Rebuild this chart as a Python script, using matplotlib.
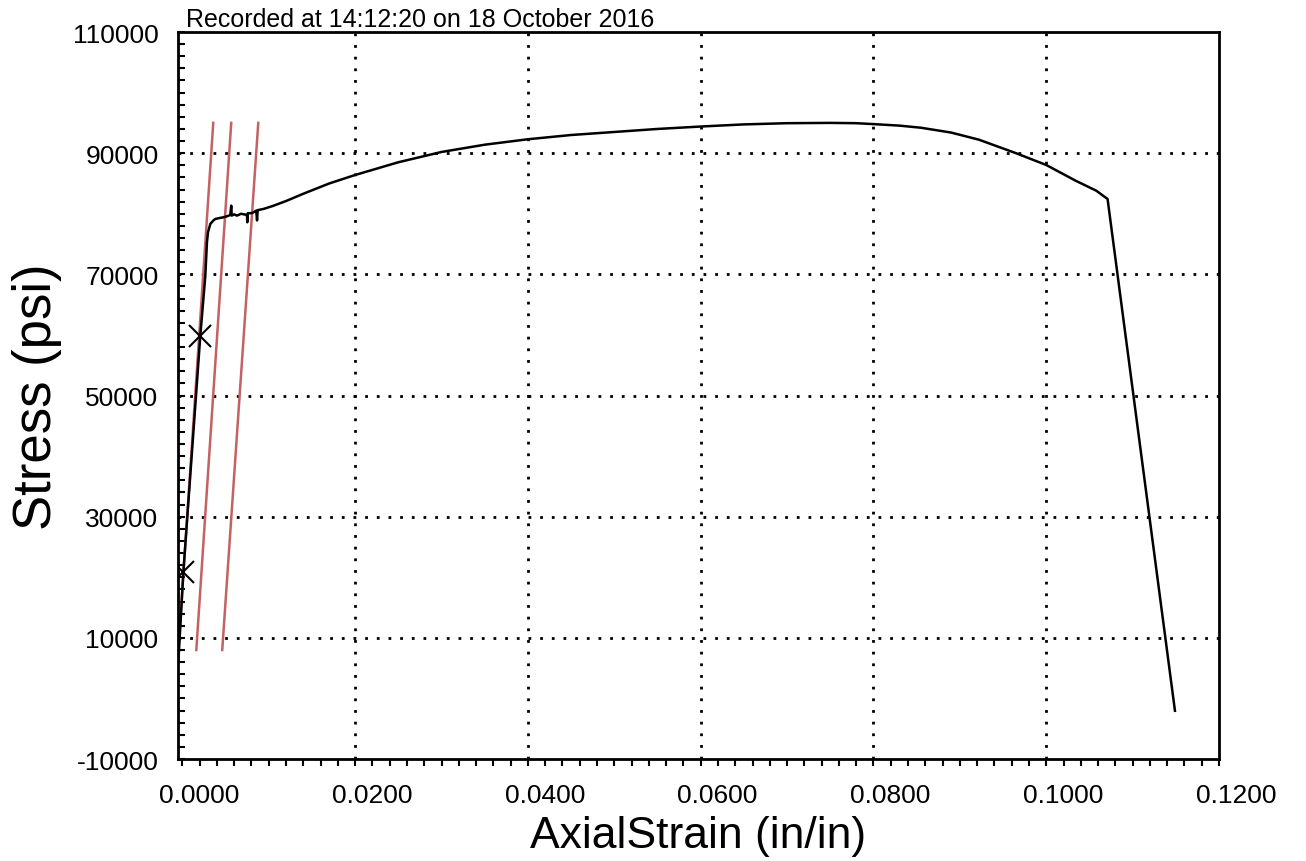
import numpy as np
import matplotlib
matplotlib.use("Agg")
import matplotlib.pyplot as plt
import matplotlib.transforms as mtransforms
from matplotlib.ticker import MultipleLocator

plt.rcParams['font.family'] = ['Liberation Sans', 'DejaVu Sans']
plt.rcParams['axes.unicode_minus'] = False

# stress-strain trace
strain = [-0.00046, 0.00012, 0.00208, 0.00266, 0.00285, 0.00297, 0.00324, 0.0036,
          0.00382, 0.0043, 0.00477, 0.0052, 0.00555, 0.00566, 0.00572, 0.0060,
          0.00632, 0.0068, 0.00748, 0.00752, 0.00758, 0.00806, 0.00855, 0.00865,
          0.00872, 0.0094, 0.0105, 0.0120, 0.0140, 0.0170, 0.0200, 0.0250,
          0.0300, 0.0350, 0.0400, 0.0450, 0.0500, 0.0550, 0.0600, 0.0650,
          0.0700, 0.0750, 0.0780, 0.0800, 0.0830, 0.0855, 0.0890, 0.0922,
          0.0965, 0.1000, 0.1034, 0.1058, 0.1071, 0.1149]
stress = [6040, 20900, 59840, 69740, 75300, 76950, 78320, 78900,
          79140, 79300, 79420, 79600, 79800, 81340, 79700, 79900,
          79690, 80000, 79800, 78600, 80100, 80100, 80510, 78900,
          80600, 80800, 81300, 82100, 83300, 85000, 86400, 88500,
          90200, 91400, 92300, 93000, 93500, 94000, 94400, 94750,
          94950, 95000, 94950, 94800, 94550, 94200, 93400, 92230,
          90000, 88050, 85460, 83800, 82440, -2040]

# the two marked points on the elastic line
mark_strain = [0.00012, 0.00208]
mark_stress = [20900, 59840]

# offset modulus lines (start, end)
offset_strain = [(-0.00046, 0.00358), (0.00162, 0.00566), (0.00462, 0.00879)]
offset_stress = [(8000, 95000), (8000, 95000), (8000, 95000)]

x_ticks = [0, 0.02, 0.04, 0.06, 0.08, 0.10, 0.12]
y_ticks = [-10000, 10000, 30000, 50000, 70000, 90000, 110000]
x_grid = [0.02, 0.04, 0.06, 0.08, 0.10]
y_grid = [10000, 30000, 50000, 70000, 90000]

title = "Recorded at 14:12:20 on 18 October 2016"

fig = plt.figure(figsize=(13.06, 8.62), dpi=100)
ax = fig.add_axes([0.1363, 0.1183, 0.7971, 0.8434])

for xs, ys in zip(offset_strain, offset_stress):
    ax.plot(xs, ys, color='#c46262', lw=1.8, zorder=2)

ax.plot(strain, stress, color='black', lw=1.8, zorder=3)
ax.plot(mark_strain, mark_stress, 'x', color='black', ms=16, mew=1.5, zorder=4)

ax.set_xlim(-0.0005, 0.12)
ax.set_ylim(-10000, 110000)

ax.xaxis.set_minor_locator(MultipleLocator(0.002))
ax.yaxis.set_minor_locator(MultipleLocator(2000))
ax.set_yticks(y_ticks)
ax.set_xticks(x_ticks)
ax.set_xticklabels(['%.4f' % v for v in x_ticks])

ax.tick_params(axis='y', which='both', direction='in', length=5, width=1.5,
               labelsize=19, pad=14)
ax.tick_params(axis='x', which='both', direction='out', length=5, width=1.5,
               labelsize=19, pad=12)

# scanned labels sit a bit right of their ticks
shift = mtransforms.ScaledTranslation(0.17, 0, fig.dpi_scale_trans)
for lab in ax.get_xticklabels():
    lab.set_transform(lab.get_transform() + shift)

for v in x_grid:
    ax.axvline(v, color='black', lw=2, ls=(0, (1, 3.2)), zorder=1)
for v in y_grid:
    ax.axhline(v, color='black', lw=2, ls=(0, (1, 3.2)), zorder=1)

for s in ax.spines.values():
    s.set_linewidth(2)

ax.set_xlabel('AxialStrain (in/in)', fontsize=32, labelpad=6)
ax.set_ylabel('Stress (psi)', fontsize=38, labelpad=8)
ax.set_title(title, fontsize=18, loc='left', pad=4, x=0.008)

fig.savefig('out.png', dpi=100)
